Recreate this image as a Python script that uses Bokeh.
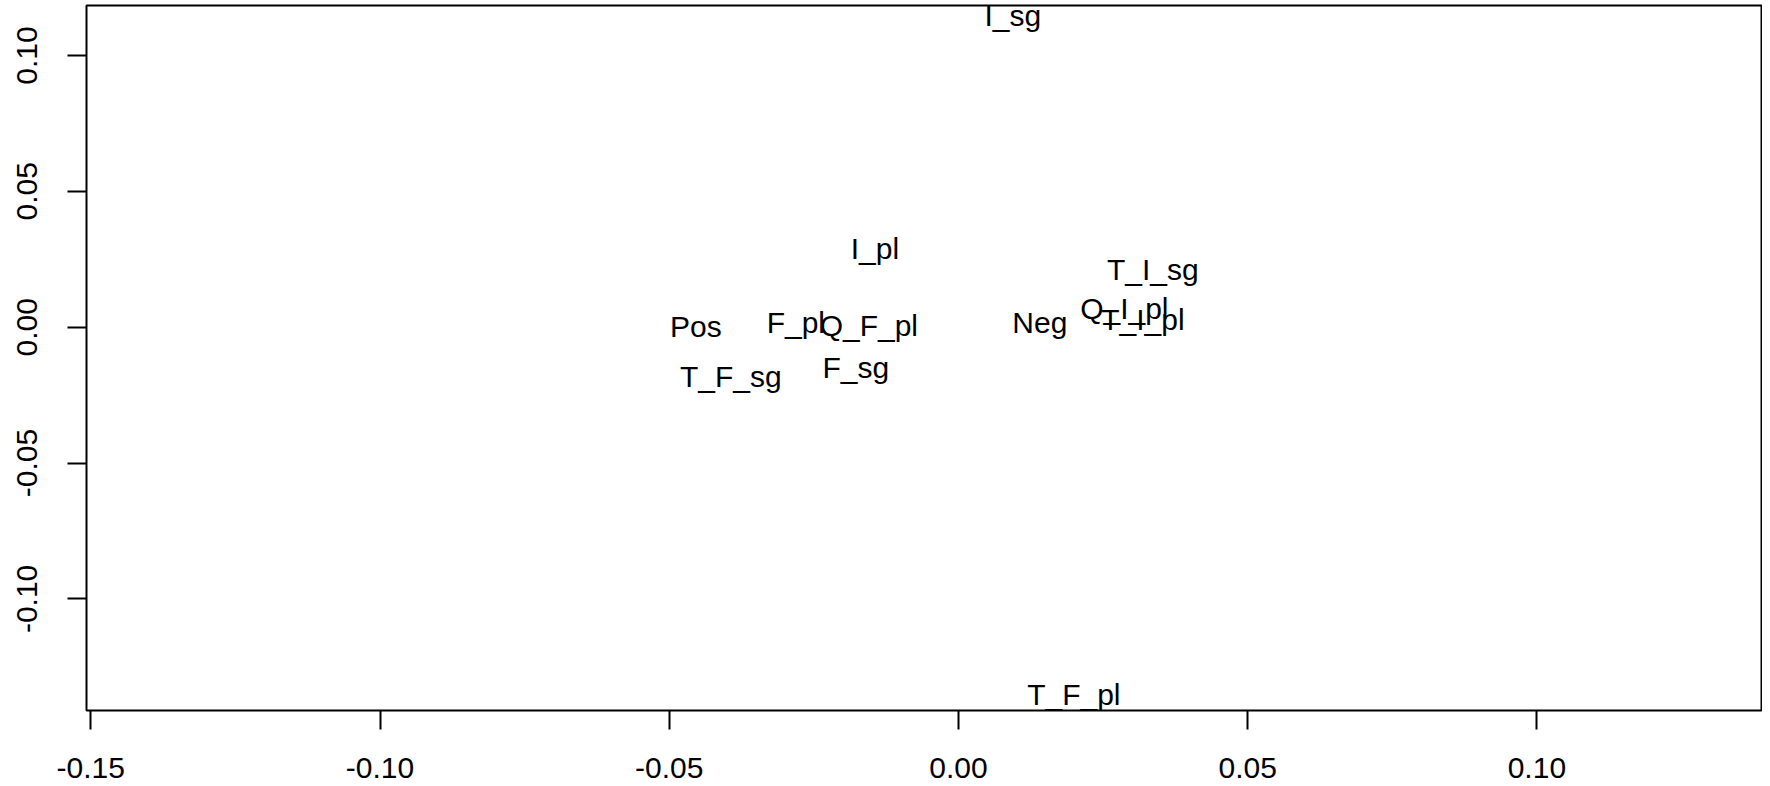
from bokeh.plotting import figure
from bokeh.models import Range1d, FixedTicker, ColumnDataSource, PrintfTickFormatter
from bokeh.core.properties import value
from bokeh.embed import file_html
from bokeh.resources import INLINE

# ---- data ----
labels = ["I_sg", "I_pl", "T_I_sg", "Q_I_pl", "T_I_pl", "Neg", "Pos",
          "F_pl", "Q_F_pl", "F_sg", "T_F_sg", "T_F_pl"]
dim1 = [0.00941, -0.01445, 0.03361, 0.02868, 0.03188, 0.01407, -0.04540,
        -0.02811, -0.01549, -0.01774, -0.03935, 0.01995]
dim2 = [0.11400, 0.02805, 0.02032, 0.00615, 0.00210, 0.00081, -0.00048,
        0.00081, -0.00030, -0.01557, -0.01888, -0.13600]

x_ticks = [-0.15, -0.10, -0.05, 0.00, 0.05, 0.10]
y_ticks = [-0.10, -0.05, 0.00, 0.05, 0.10]
x_limits = (-0.15074, 0.13883)
y_limits = (-0.14107, 0.11840)

FONT = "Liberation Sans"

p = figure(width=1762, height=786,
           x_range=Range1d(*x_limits), y_range=Range1d(*y_limits),
           output_backend="svg", toolbar_location=None,
           min_border_left=86, min_border_right=1,
           min_border_top=5, min_border_bottom=76)
p.margin = (0, 0, 0, 0)

p.grid.visible = False
p.background_fill_color = "white"
p.border_fill_color = "white"
p.outline_line_color = "black"
p.outline_line_width = 2

for ax, ticks in ((p.xaxis[0], x_ticks), (p.yaxis[0], y_ticks)):
    ax.ticker = FixedTicker(ticks=ticks)
    ax.formatter = PrintfTickFormatter(format="%.2f")
    ax.axis_line_color = None
    ax.major_tick_in = 0
    ax.major_tick_out = 19
    ax.major_tick_line_width = 2
    ax.major_tick_line_color = "black"
    ax.minor_tick_line_color = None
    ax.major_label_text_font = FONT
    ax.major_label_text_font_size = "30px"
    ax.major_label_text_color = "black"

p.xaxis.major_label_standoff = 28
p.yaxis.major_label_standoff = 30
p.yaxis.major_label_orientation = "vertical"

src = ColumnDataSource(dict(x=dim1, y=dim2, label=labels))
p.text(x="x", y="y", text="label", source=src,
       text_font=value(FONT), text_font_size="30px", text_color="black",
       text_align="center", text_baseline="alphabetic", y_offset=-2.3)

open("out.html", "w").write(file_html(p, INLINE))
